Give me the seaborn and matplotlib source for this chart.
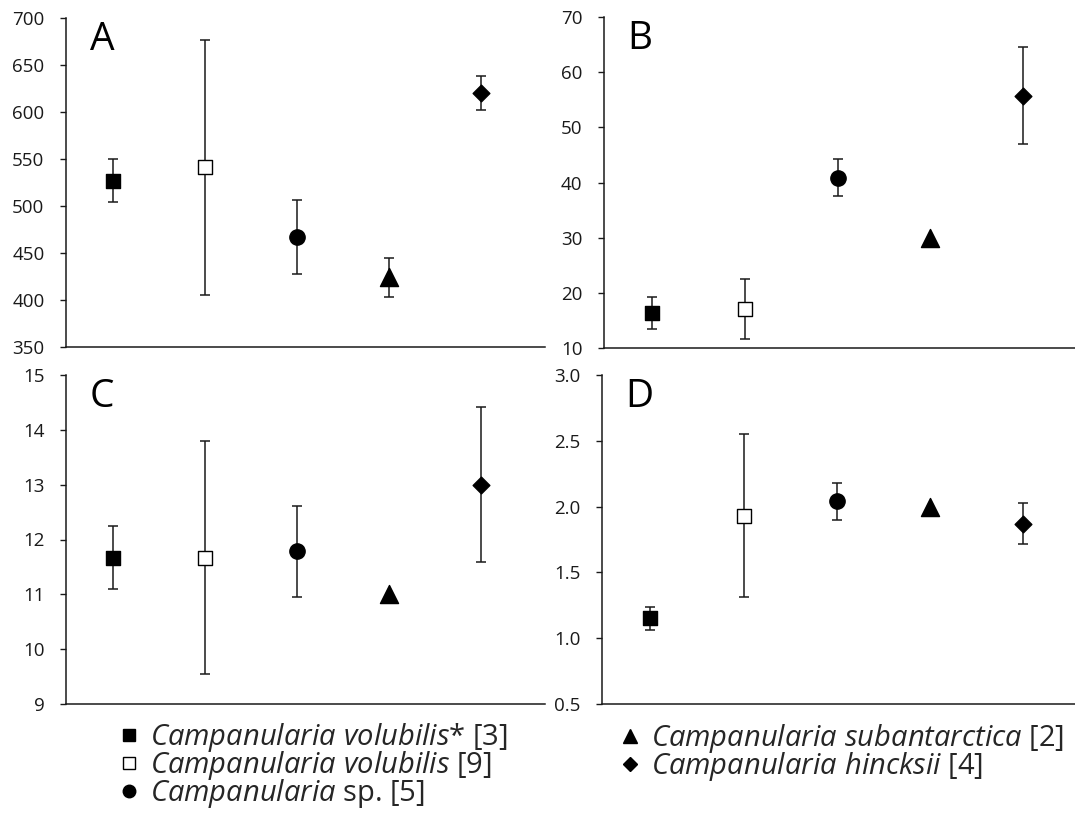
import numpy as np
import matplotlib
matplotlib.use("Agg")
import matplotlib.pyplot as plt
from matplotlib.lines import Line2D
from matplotlib.ticker import FormatStrFormatter
import seaborn as sns

sns.set_style("ticks")
plt.rcParams['font.family'] = ['Open Sans', 'DejaVu Sans']
plt.rcParams['mathtext.fontset'] = 'custom'
plt.rcParams['mathtext.it'] = 'Open Sans:italic'
plt.rcParams['mathtext.rm'] = 'Open Sans'

# species as shown in the legend, with sample sizes
genus = "Campanularia"
epithets = ["volubilis*", "volubilis", "sp.", "subantarctica", "hincksii"]
sample_n = [3, 9, 5, 2, 4]

# panel values (mean and error)
a_mean = [527, 541, 467, 424, 620]
a_err = [23, 136, 39, 21, 18]
b_mean = [16.3, 17.1, 40.9, 29.9, 55.7]
b_err = [2.9, 5.4, 3.4, 0, 8.8]
c_mean = [11.67, 11.67, 11.79, 11.0, 13.0]
c_err = [0.58, 2.12, 0.83, 0, 1.41]
d_mean = [1.15, 1.93, 2.04, 2.0, 1.87]
d_err = [0.09, 0.62, 0.14, 0, 0.155]

markers = ["s", "s", "o", "^", "D"]
faces = ["black", "white", "black", "black", "black"]
msizes = [10.5, 10.5, 11, 13, 8.5]

panels = [
    ("A", a_mean, a_err, (350, 700), np.arange(350, 701, 50), "%d"),
    ("B", b_mean, b_err, (10, 70), np.arange(10, 71, 10), "%d"),
    ("C", c_mean, c_err, (9, 15), np.arange(9, 16, 1), "%d"),
    ("D", d_mean, d_err, (0.5, 3.0), np.arange(0.5, 3.01, 0.5), "%.1f"),
]

W, H = 1075, 814
rects = {
    "A": (66, 18, 479, 329),
    "B": (604, 17, 471, 331),
    "C": (66, 375, 479, 329),
    "D": (602, 375, 473, 329),
}

fig = plt.figure(figsize=(W / 100, H / 100), dpi=100)
x = np.arange(len(epithets))

for letter, mean, err, ylim, ticks, fmt in panels:
    l, t, w, h = rects[letter]
    ax = fig.add_axes([l / W, (H - t - h) / H, w / W, h / H])
    for i in range(len(x)):
        if err[i] > 0:
            ax.errorbar(x[i], mean[i], yerr=err[i], fmt="none", ecolor="#1a1a1a",
                        elinewidth=1.1, capsize=3.5, capthick=1.1, zorder=2)
        sns.scatterplot(x=[x[i]], y=[mean[i]], marker=markers[i], s=msizes[i] ** 2,
                        color=faces[i], edgecolor="black", linewidth=1.0,
                        ax=ax, zorder=3, legend=False)
    ax.set_ylim(*ylim)
    ax.set_yticks(ticks)
    ax.yaxis.set_major_formatter(FormatStrFormatter(fmt))
    if letter in ("A", "C"):
        ax.set_xlim(-0.51, 4.70)
    else:
        ax.set_xlim(-0.52, 4.56)
    ax.set_xticks([])
    ax.tick_params(axis="y", length=4.5, width=1, labelsize=13.5, pad=11,
                   colors="#1a1a1a")
    for s in ("top", "right"):
        ax.spines[s].set_visible(False)
    for s in ("left", "bottom"):
        ax.spines[s].set_linewidth(1.1)
        ax.spines[s].set_color("#1a1a1a")
    ax.set_xlabel("")
    ax.set_ylabel("")
    ax.text(0.05, 0.99, letter, transform=ax.transAxes, fontsize=28,
            va="top", ha="left", color="black")

# legend, two columns placed under the panels
handles = [Line2D([], [], marker=markers[i], ls="none", mfc=faces[i], mec="black",
                  mew=1.0, markersize=[8.5, 8.5, 9, 10, 7.5][i]) for i in range(5)]
labels = []
for e, n in zip(epithets, sample_n):
    if e == "sp.":
        labels.append(r"$\mathit{%s}$ sp. [%d]" % (genus, n))
    elif e.endswith("*"):
        labels.append(r"$\mathit{%s\ %s}$* [%d]" % (genus, e[:-1], n))
    else:
        labels.append(r"$\mathit{%s\ %s}$ [%d]" % (genus, e, n))

leg_kw = dict(frameon=False, fontsize=21, handlelength=0.55, handletextpad=0.45,
              labelspacing=-0.17, borderpad=0, borderaxespad=0, loc="upper left")
fig.legend(handles[:3], labels[:3], bbox_to_anchor=(121 / W, 1 - 721 / H), **leg_kw)
fig.legend(handles[3:], labels[3:], bbox_to_anchor=(622 / W, 1 - 722 / H), **leg_kw)

fig.savefig("out.png", dpi=100)
